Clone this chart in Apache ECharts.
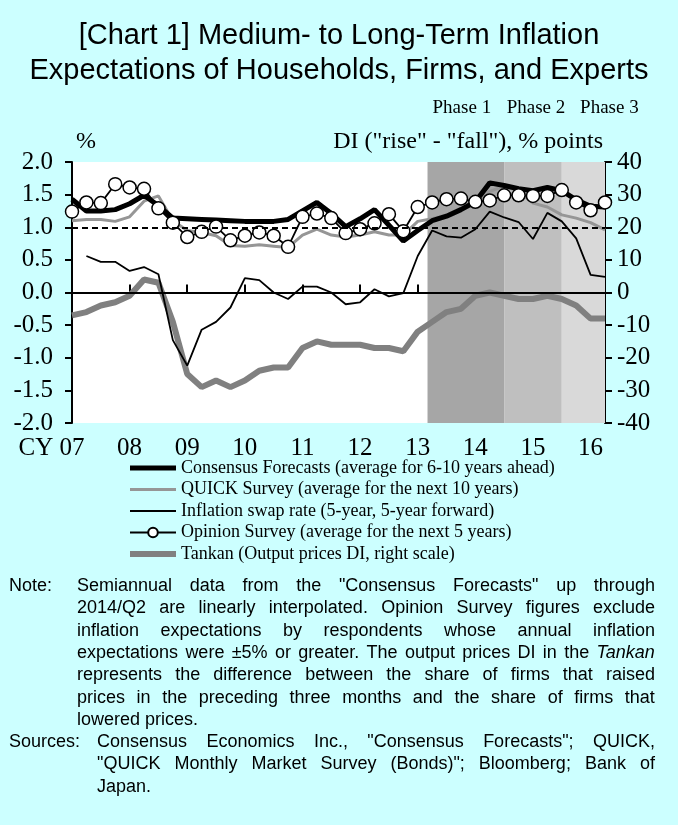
<!DOCTYPE html>
<html><head><meta charset="utf-8">
<script src="https://cdn.jsdelivr.net/npm/echarts@6/dist/echarts.min.js"></script>
<style>
html,body{margin:0;padding:0;background:#ccffff;}
#wrap{position:relative;width:678px;height:825px;overflow:hidden;background:#ccffff;}
#chart{position:absolute;left:0;top:0;width:678px;height:825px;}
.nl{position:absolute;font-family:'Liberation Sans',Arial,sans-serif;font-size:18px;line-height:22.3px;color:#000;white-space:nowrap;}
.fx{display:flex;justify-content:space-between;}
</style></head>
<body><div id="wrap"><div id="chart"></div></div>
<script>
// ---- data ----
const quarters = ['07Q1','07Q2','07Q3','07Q4','08Q1','08Q2','08Q3','08Q4','09Q1','09Q2','09Q3','09Q4',
  '10Q1','10Q2','10Q3','10Q4','11Q1','11Q2','11Q3','11Q4','12Q1','12Q2','12Q3','12Q4',
  '13Q1','13Q2','13Q3','13Q4','14Q1','14Q2','14Q3','14Q4','15Q1','15Q2','15Q3','15Q4','16Q1','16Q2'];
const consensus = [1.43,1.25,1.25,1.27,1.36,1.49,1.33,1.14,1.13,1.12,1.11,1.10,1.09,1.09,1.09,1.12,1.25,1.38,1.21,1.01,1.13,1.27,1.03,0.79,0.95,1.10,1.17,1.27,1.39,1.68,1.64,1.59,1.56,1.61,1.56,1.42,1.32,1.31];
const quick = [1.10,1.12,1.12,1.09,1.16,1.40,1.48,1.10,0.95,0.92,0.87,0.72,0.71,0.73,0.71,0.69,0.88,0.97,0.88,0.85,0.88,0.93,0.88,0.88,1.09,1.13,1.19,1.29,1.40,1.55,1.63,1.55,1.37,1.31,1.19,1.14,1.07,0.96];
const swap = [null,0.56,0.47,0.47,0.33,0.39,0.28,-0.73,-1.12,-0.57,-0.45,-0.23,0.22,0.19,0.00,-0.10,0.09,0.09,0.00,-0.18,-0.15,0.05,-0.06,-0.01,0.56,0.95,0.86,0.84,0.97,1.24,1.15,1.08,0.82,1.22,1.09,0.83,0.27,0.24];
const opinion = [1.24,1.38,1.37,1.66,1.61,1.59,1.29,1.07,0.85,0.93,1.01,0.80,0.87,0.92,0.87,0.70,1.16,1.21,1.14,0.91,0.97,1.06,1.20,0.94,1.31,1.38,1.43,1.44,1.39,1.41,1.49,1.49,1.48,1.48,1.57,1.38,1.26,1.38];
const tankan = [-7,-6,-4,-3,-1,4,3,-9,-25,-29,-27,-29,-27,-24,-23,-23,-17,-15,-16,-16,-16,-17,-17,-18,-12,-9,-6,-5,-1,0,-1,-2,-2,-1,-2,-4,-8,-8];
const yearTicks = ['07','08','09','10','11','12','13','14','15','16'];
const seriesNames = ['Consensus Forecasts (average for 6-10 years ahead)','QUICK Survey (average for the next 10 years)',
  'Inflation swap rate (5-year, 5-year forward)','Opinion Survey (average for the next 5 years)','Tankan (Output prices DI, right scale)'];
const phaseNames = ['Phase 1','Phase 2','Phase 3'];
const phaseBounds = [2013.17, 2014.5, 2015.5, 2016.25];
const refLines = [0, 1.0];
const noteLines = [
 'Semiannual data from the "Consensus Forecasts" up through',
 '2014/Q2 are linearly interpolated. Opinion Survey figures exclude',
 'inflation expectations by respondents whose annual inflation',
 'expectations were ±5% or greater. The output prices DI in the _Tankan_',
 'represents the difference between the share of firms that raised',
 'prices in the preceding three months and the share of firms that',
 'lowered prices.'];
const sourceLines = [
 'Consensus Economics Inc., "Consensus Forecasts"; QUICK,',
 '"QUICK Monthly Market Survey (Bonds)"; Bloomberg; Bank of',
 'Japan.'];

// ---- helpers ----
const qx = q => 2000 + parseInt(q.slice(0,2),10) + (parseInt(q.slice(3),10)-1)/4;
const pts = arr => quarters.map((q,i)=>[qx(q), arr[i]]);
const SERIF = "'Liberation Serif','Times New Roman',serif";
const SANS = "'Liberation Sans',Arial,sans-serif";
const phaseColors = ['#a6a6a6','#bfbfbf','#d9d9d9'];
const phaseOffsets = [[-4,0],[3,0],[26,0]];
const hiddenSym = {color:'rgba(0,0,0,0)', borderColor:'rgba(0,0,0,0)', borderWidth:0};

const chart = echarts.init(document.getElementById('chart'), null, {renderer:'canvas'});
const axisLine = {show:true, lineStyle:{color:'#000', width:2}};
const tickFont = 25;
chart.setOption({
  animation:false,
  backgroundColor:'#ccffff',
  title:{text:'[Chart 1] Medium- to Long-Term Inflation\nExpectations of Households, Firms, and Experts',
    left:'center', top:13, textStyle:{fontFamily:SANS, fontSize:29, fontWeight:'normal', color:'#000', lineHeight:35}},
  grid:{left:72, right:73, top:162, bottom:402, show:true, backgroundColor:'#fff', borderWidth:0},
  legend:{orient:'vertical', left:127, top:459, itemWidth:46, itemHeight:12, itemGap:3.5, padding:0,
    textStyle:{fontFamily:SERIF, fontSize:18, color:'#000'}, lineStyle:{width:'inherit'},
    selectedMode:false,
    data:seriesNames.map((n,i)=> i===3 ? {name:n} : {name:n, itemStyle:hiddenSym})},
  xAxis:[{type:'value', min:2007, max:2016.25, interval:1, position:'bottom',
    axisLine:axisLine, splitLine:{show:false},
    axisTick:{show:true, inside:true, length:8, lineStyle:{color:'#000', width:2}},
    axisLabel:{margin:13, fontFamily:SERIF, fontSize:tickFont, color:'#000',
      formatter:v=>{const y=Math.round(v); if(Math.abs(v-y)>1e-6) return ''; const s=yearTicks[y-2007]||'';
        return y===2007 ? '{cy|CY }'+s+'{pad|}' : s;},
      rich:{cy:{fontFamily:SERIF, fontSize:tickFont, color:'#000'}, pad:{width:41}}}},
   {type:'value', min:2007, max:2016.25, position:'top', axisLine:axisLine, axisTick:{show:false},
    axisLabel:{show:false}, splitLine:{show:false}}],
  yAxis:[{type:'value', min:-2, max:2, interval:0.5, position:'left', name:'%', nameLocation:'end', nameGap:8,
    nameTextStyle:{fontFamily:SERIF, fontSize:24, color:'#000', align:'left', padding:[0,0,0,4]},
    axisLine:axisLine, splitLine:{show:false},
    axisTick:{show:true, length:7, lineStyle:{color:'#000', width:2}},
    axisLabel:{margin:19, fontFamily:SERIF, fontSize:tickFont, color:'#000', formatter:v=>v.toFixed(1)}},
   {type:'value', min:-40, max:40, interval:10, position:'right', name:'DI ("rise" - "fall"), % points',
    nameLocation:'end', nameGap:8,
    nameTextStyle:{fontFamily:SERIF, fontSize:24, color:'#000', align:'right', padding:[0,2,0,0]},
    axisLine:axisLine, splitLine:{show:false},
    axisTick:{show:true, length:7, lineStyle:{color:'#000', width:2}},
    axisLabel:{margin:12, fontFamily:SERIF, fontSize:tickFont, color:'#000'}}],
  series:[
    {name:'phases', type:'line', data:[], z:1, symbol:'none', silent:true,
      markArea:{silent:true, data:phaseNames.map((n,i)=>[
        {xAxis:phaseBounds[i], yAxis:-2, name:n, itemStyle:{color:phaseColors[i]},
         label:{show:true, position:'top', distance:44, offset:phaseOffsets[i], fontFamily:SERIF, fontSize:19, color:'#000'}},
        {xAxis:phaseBounds[i+1], yAxis:2}])}},
    {name:seriesNames[4], type:'line', yAxisIndex:1, data:pts(tankan), symbol:'none', z:2,
      lineStyle:{color:'#808080', width:6}, itemStyle:{color:'#808080'}},
    {name:seriesNames[2], type:'line', data:pts(swap), symbol:'none', z:3,
      lineStyle:{color:'#000', width:1.8}, itemStyle:{color:'#000'},
      markLine:{silent:true, symbol:'none', label:{show:false},
        data:[{yAxis:refLines[0], lineStyle:{color:'#000', width:2, type:'solid'}},
              {yAxis:refLines[1], lineStyle:{color:'#000', width:1.8, type:[6,4]}}]}},
    {name:seriesNames[1], type:'line', data:pts(quick), symbol:'none', z:3,
      lineStyle:{color:'#969696', width:3}, itemStyle:{color:'#969696'}},
    {name:seriesNames[0], type:'line', data:pts(consensus), symbol:'none', z:3,
      lineStyle:{color:'#000', width:5}, itemStyle:{color:'#000'}},
    {name:seriesNames[3], type:'line', data:pts(opinion), symbol:'circle', symbolSize:13, z:4,
      lineStyle:{color:'#000', width:1.8}, itemStyle:{color:'#fff', borderColor:'#000', borderWidth:1.5}}
  ]
});

// ---- notes (justified lines) ----
const wrap = document.getElementById('wrap');
function addLine(text, left, top, width, justify){
  const d = document.createElement('div');
  d.className = 'nl' + (justify ? ' fx' : '');
  d.style.left = left+'px'; d.style.top = top+'px';
  if (justify) d.style.width = width+'px';
  const words = text.split(' ');
  words.forEach((w,i)=>{
    const s = document.createElement('span');
    let t = w;
    if (/^_.*_$/.test(w)) { t = w.slice(1,-1); s.style.fontStyle='italic'; }
    s.textContent = justify ? t : (i ? ' ' : '') + t;
    d.appendChild(s);
  });
  wrap.appendChild(d);
}
const lh = 22.3, top0 = 574;
addLine('Note:', 9, top0, 0, false);
noteLines.forEach((l,i)=>addLine(l, 77, top0+i*lh, 578, i<noteLines.length-1));
const top1 = top0 + noteLines.length*lh;
addLine('Sources:', 9, top1, 0, false);
sourceLines.forEach((l,i)=>addLine(l, 97, top1+i*lh, 558, i<sourceLines.length-1));
</script></body></html>
